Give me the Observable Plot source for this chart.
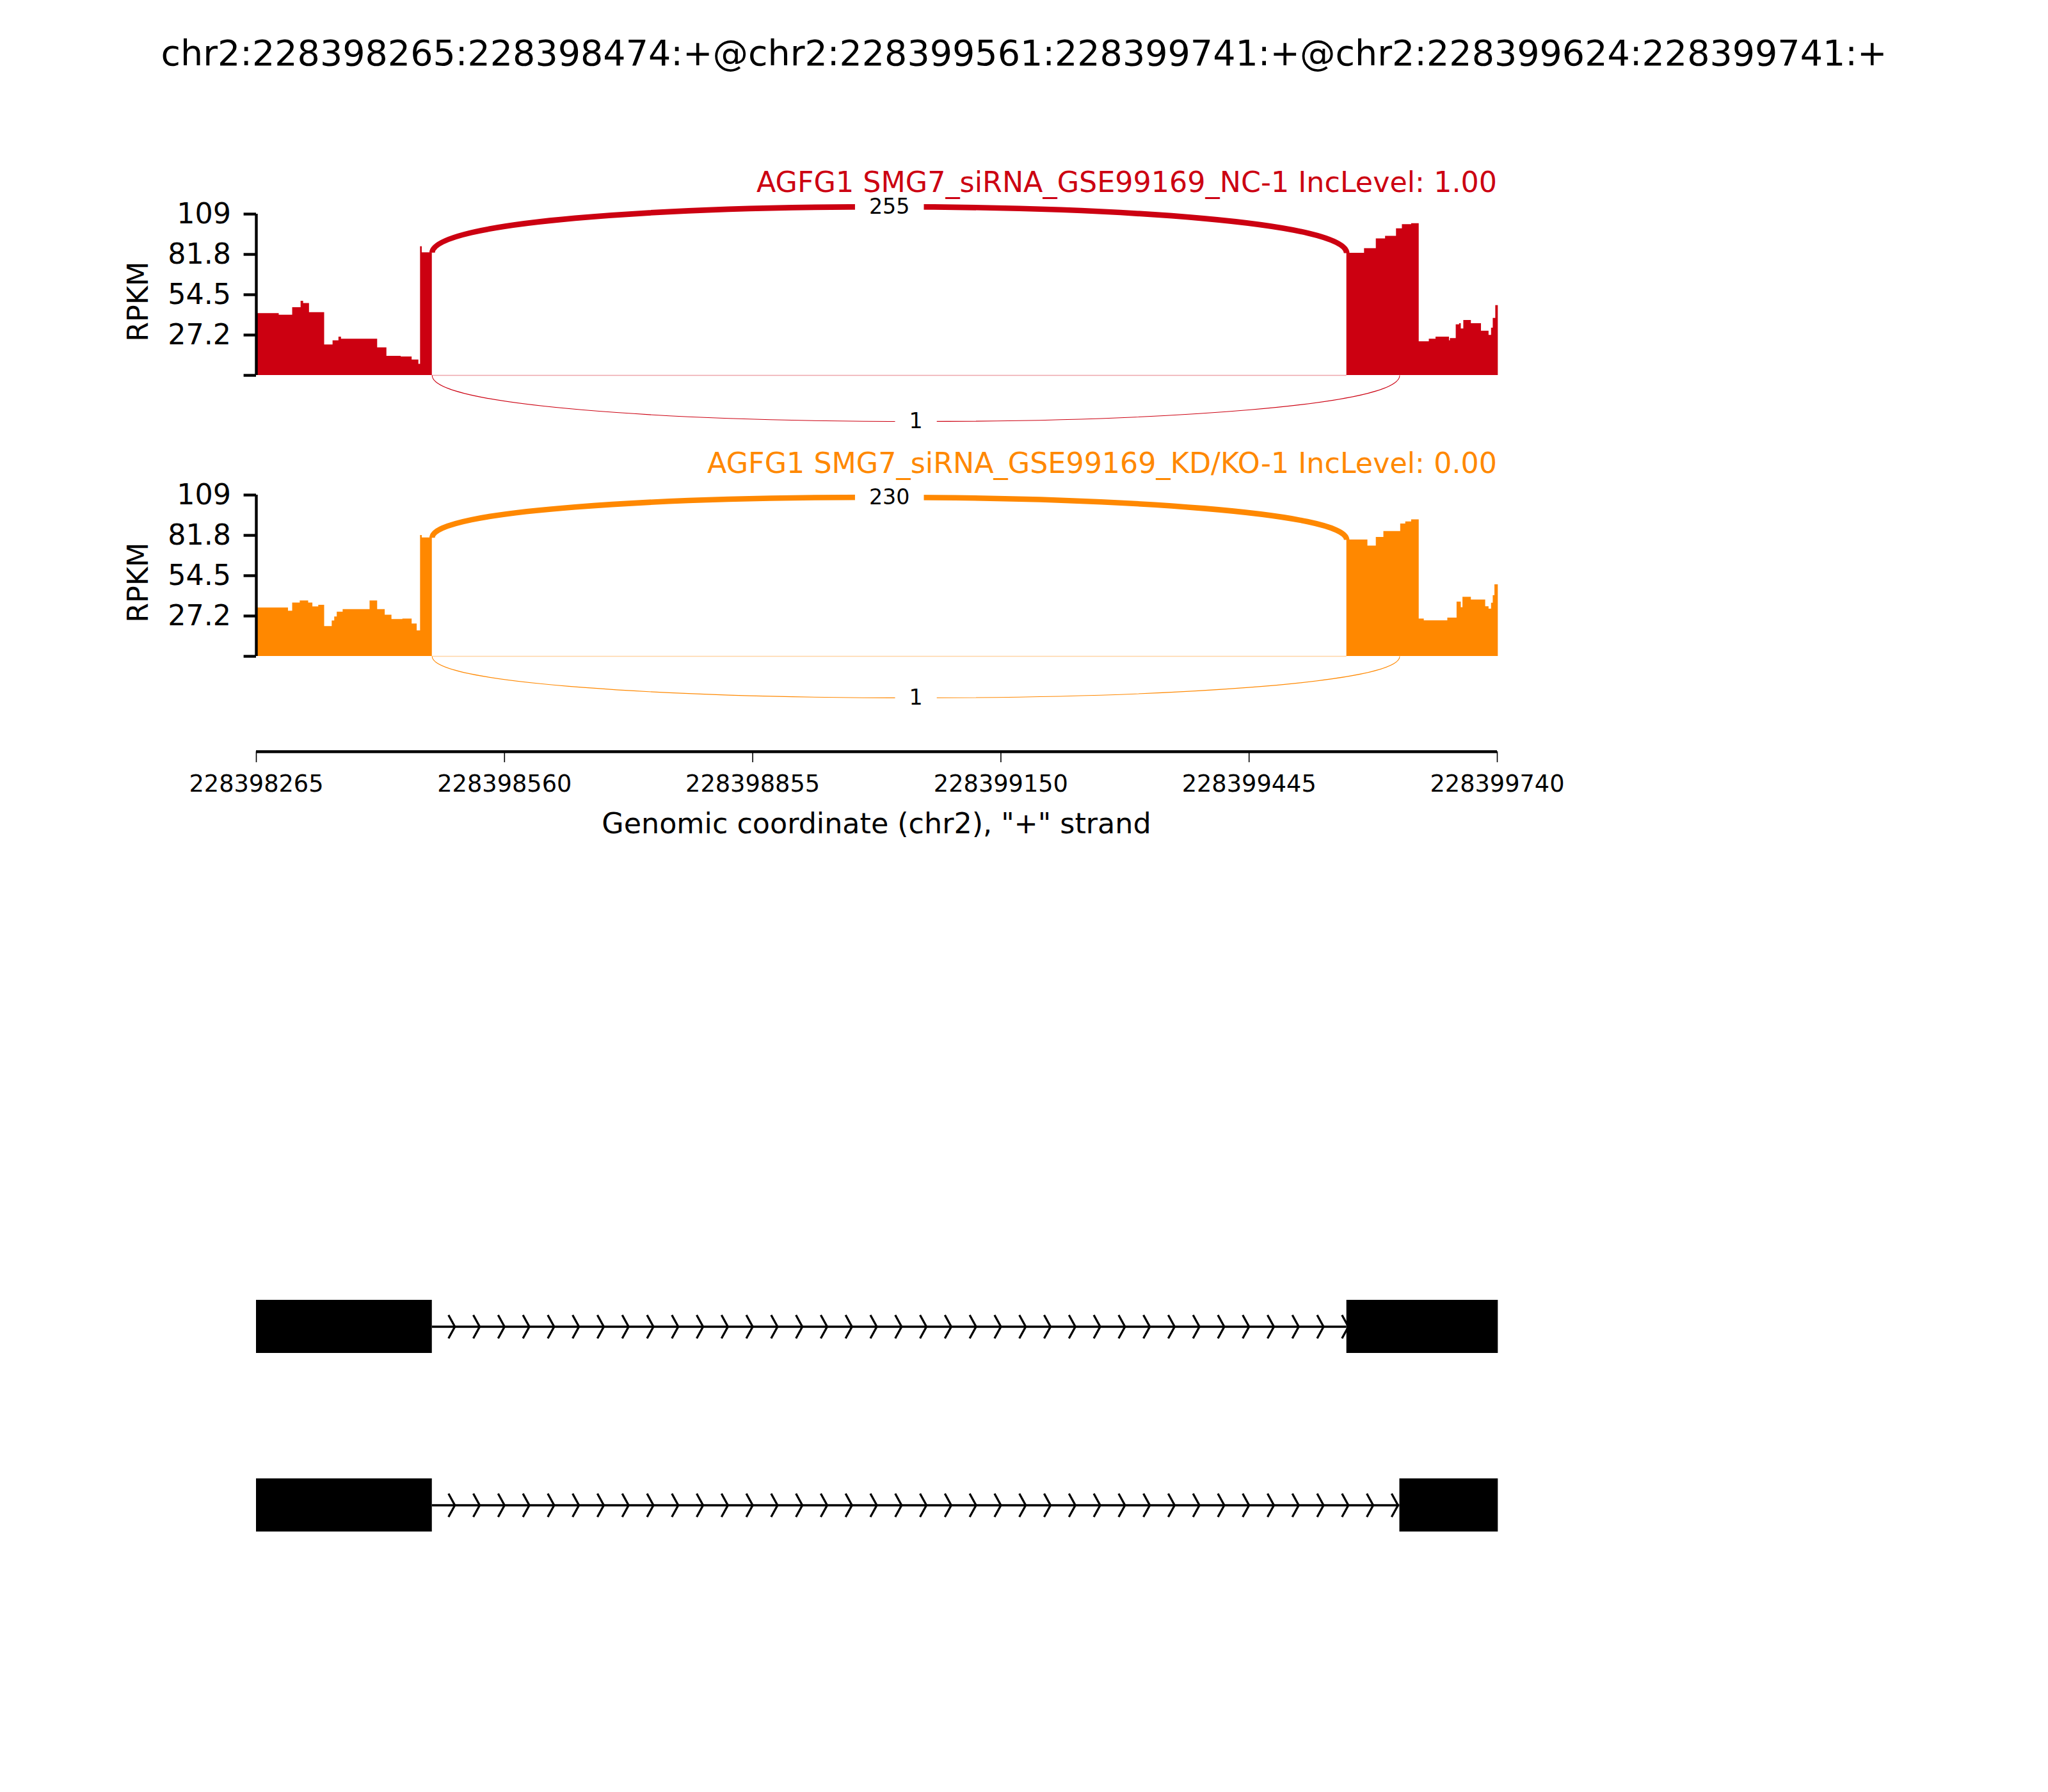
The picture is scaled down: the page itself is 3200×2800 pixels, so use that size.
<!DOCTYPE html>
<html>
<head>
<meta charset="utf-8">
<script src="https://cdn.jsdelivr.net/npm/d3@7"></script>
<script src="https://cdn.jsdelivr.net/npm/@observablehq/plot@0.6"></script>
<style>
  body { margin: 0; background: #fff; }
  #fig { position: relative; width: 3200px; height: 2800px; background: #fff; overflow: hidden;
         font-family: "DejaVu Sans", sans-serif; }
  .txt { position: absolute; white-space: nowrap; }
  .blk { position: absolute; left: 0; }
</style>
</head>
<body>
<div id="fig"></div>
<script>
// ---------------- data ----------------
const regionStart = 228398265;
const regionEnd = 228399740;
const mainTitle = "chr2:228398265:228398474:+@chr2:228399561:228399741:+@chr2:228399624:228399741:+";
const sampleTitles = ["AGFG1 SMG7_siRNA_GSE99169_NC-1 IncLevel: 1.00",
                      "AGFG1 SMG7_siRNA_GSE99169_KD/KO-1 IncLevel: 0.00"];
const sampleColors = ["#CC0011", "#FF8800"];
const xTicks = [228398265, 228398560, 228398855, 228399150, 228399445, 228399740];
const xTickLabels = ["228398265", "228398560", "228398855", "228399150", "228399445", "228399740"];
const xLabel = 'Genomic coordinate (chr2), "+" strand';
const yLabel = "RPKM";
const yMax = 109;
const yTicks = [0, 27.25, 54.5, 81.75, 109];
const yTickLabels = ["", "27.2", "54.5", "81.8", "109"];

// exons of the event
const exonUp = [228398265, 228398474];
const exonLong = [228399561, 228399741];
const exonShort = [228399624, 228399741];

// coverage (RPKM) as steps: position = bp offset from regionStart
const ncUpPos   = [0, 27, 43, 53, 56, 63, 81, 91, 98, 101, 144, 155, 172, 185, 193, 195, 197];
const ncUpVal   = [41.8, 40.8, 45.8, 50.2, 48.7, 42.5, 20.6, 23.5, 26.0, 24.5, 18.7, 13.0, 12.5, 10.5, 7.6, 87.0, 82.9];
const ncDownPos = [1296, 1317, 1331, 1342, 1355, 1362, 1373, 1382, 1394, 1402, 1418, 1419, 1426, 1430, 1432, 1435, 1444, 1456, 1465, 1468, 1470, 1473];
const ncDownVal = [82.6, 85.8, 92.3, 94.1, 99.2, 102.0, 102.6, 22.8, 24.5, 26.0, 23.5, 25.0, 34.3, 35.0, 31.5, 37.2, 35.0, 30.0, 27.1, 32.0, 38.6, 47.3];
const kdUpPos   = [0, 38, 43, 52, 62, 67, 74, 81, 90, 93, 96, 103, 135, 144, 153, 161, 174, 185, 191, 195, 197];
const kdUpVal   = [32.8, 30.6, 36.1, 37.5, 36.1, 33.5, 34.6, 20.2, 24.0, 26.7, 29.9, 31.7, 37.5, 31.7, 27.9, 25.0, 25.3, 22.0, 17.3, 81.8, 80.1];
const kdDownPos = [1296, 1321, 1331, 1340, 1360, 1366, 1373, 1382, 1388, 1416, 1427, 1432, 1434, 1444, 1461, 1465, 1468, 1470, 1472];
const kdDownVal = [78.7, 74.6, 80.4, 84.5, 89.5, 90.9, 92.4, 25.3, 24.1, 26.0, 36.8, 33.0, 40.0, 38.2, 33.6, 32.0, 36.0, 41.1, 48.4];

// junctions: inclusion (up -> long exon), skipping (up -> short exon)
const junctionStarts = [228398474, 228398474];
const junctionEnds   = [228399561, 228399624];
const junctionSides  = ["above", "below"];
const countsNC = [255, 1];
const countsKD = [230, 1];

// isoforms for gene structure track
const isoformNames = ["isoform1", "isoform2"];
const isoformExons = [[exonUp, exonLong], [exonUp, exonShort]];
const strandArrowCount = 50;  // chevrons on a regular grid over the region

// ---------------- styling ----------------
const FONT = "DejaVu Sans";
const arcHeightFrac = 0.405;
const arcMaxWidth = 8.7;
const W = 3200, ML = 400, MR = 861;

// ---------------- helpers ----------------
const fig = document.getElementById("fig");
function addText(str, css) {
  const d = document.createElement("div");
  d.className = "txt";
  d.textContent = str;
  Object.assign(d.style, css);
  fig.appendChild(d);
  return d;
}
function place(svg, top) {
  const wrap = document.createElement("div");
  wrap.className = "blk";
  wrap.style.top = top + "px";
  wrap.appendChild(svg);
  fig.appendChild(wrap);
}
function steps(pos, val, end, id) {
  const rows = pos.map((p, i) => ({x: regionStart + p, y: val[i], exon: id}));
  rows.push({x: end, y: val[val.length - 1], exon: id});
  return rows;
}
function covBefore(series, x) { // coverage just left of x
  let v = 0; for (const d of series) if (d.x < x) v = d.y; return v;
}
function covAt(series, x) { // coverage at x
  let v = 0; for (const d of series) if (d.x <= x) v = d.y; return v;
}
function bezierCurve(context) {
  let pts = [];
  return {
    areaStart() {}, areaEnd() {},
    lineStart() { pts = []; },
    point(x, y) { pts.push([+x, +y]); },
    lineEnd() {
      if (pts.length === 4) {
        context.moveTo(pts[0][0], pts[0][1]);
        context.bezierCurveTo(pts[1][0], pts[1][1], pts[2][0], pts[2][1], pts[3][0], pts[3][1]);
      } else if (pts.length) {
        context.moveTo(pts[0][0], pts[0][1]);
        for (const p of pts.slice(1)) context.lineTo(p[0], p[1]);
      }
    }
  };
}
function boxLabels(svg, pad) {
  svg.querySelectorAll('g[aria-label="text"] text').forEach(t => {
    const bb = t.getBBox();
    const r = document.createElementNS("http://www.w3.org/2000/svg", "rect");
    r.setAttribute("x", bb.x - pad);
    r.setAttribute("y", bb.y - pad);
    r.setAttribute("width", bb.width + 2 * pad);
    r.setAttribute("height", bb.height + 2 * pad);
    r.setAttribute("fill", "white");
    r.setAttribute("stroke", "none");
    const tr = t.getAttribute("transform");
    if (tr) r.setAttribute("transform", tr);
    t.parentNode.insertBefore(r, t);
  });
}
const maxCount = d3.max([...countsNC, ...countsKD]);

// ---------------- main title ----------------
addText(mainTitle, {left: "0px", width: W + "px", textAlign: "center", top: "55px",
  fontSize: "55.5px", lineHeight: "55.5px", color: "#000"});

// ---------------- sashimi panels ----------------
const samples = [
  {series: [...steps(ncUpPos, ncUpVal, exonUp[1], "up"), ...steps(ncDownPos, ncDownVal, exonLong[1], "down")], counts: countsNC},
  {series: [...steps(kdUpPos, kdUpVal, exonUp[1], "up"), ...steps(kdDownPos, kdDownVal, exonLong[1], "down")], counts: countsKD}
];
const panelTops = [240, 679];
const PH = 470, PMT = 94, PMB = 124;

samples.forEach((s, i) => {
  const color = sampleColors[i];
  const H = arcHeightFrac * d3.max(s.series, d => d.y);
  const arcMarks = [];
  const labels = [];
  junctionStarts.forEach((js, k) => {
    const je = junctionEnds[k];
    const above = junctionSides[k] === "above";
    const v1 = above ? covBefore(s.series, js) : 0;
    const v2 = above ? covAt(s.series, je) : 0;
    const h = above ? H : -H;
    const pts = [{x: js, y: v1}, {x: js, y: v1 + h}, {x: je, y: v2 + h}, {x: je, y: v2}];
    const lw = Math.log(s.counts[k] + 1) / Math.log(maxCount + 1) * arcMaxWidth;
    arcMarks.push(Plot.line(pts, {x: "x", y: "y", curve: bezierCurve, stroke: color, strokeWidth: lw,
      strokeLinecap: "butt"}));
    labels.push({x: (js + je) / 2, y: (v1 + v2) / 2 + 0.75 * h, text: String(s.counts[k])});
  });

  const svg = Plot.plot({
    width: W, height: PH,
    marginLeft: ML, marginRight: MR, marginTop: PMT, marginBottom: PMB,
    style: {background: "transparent", fontFamily: FONT, overflow: "visible"},
    x: {domain: [regionStart, regionEnd], axis: null},
    y: {domain: [0, yMax]},
    marks: [
      Plot.ruleY([0], {x1: exonUp[1], x2: exonLong[0], stroke: color, strokeOpacity: 0.35, strokeWidth: 1.5}),
      Plot.areaY(s.series, {x: "x", y: "y", z: "exon", curve: "step-after", fill: color}),
      ...arcMarks,
      Plot.text(labels, {x: "x", y: "y", text: "text", fontSize: 33.3, fill: "black",
        textAnchor: "middle", lineAnchor: "middle"}),
      Plot.ruleX([regionStart], {y1: 0, y2: yMax, stroke: "black", strokeWidth: 4.4}),
      Plot.axisY({ticks: yTicks, tickFormat: d => yTickLabels[yTicks.indexOf(d)], tickSize: 19.4,
        tickPadding: 20, strokeWidth: 4.4, fontSize: 44.4, label: null, anchor: "left"})
    ]
  });
  place(svg, panelTops[i]);
  boxLabels(svg, 22);

  // panel title (right aligned with the axes' right edge)
  addText(sampleTitles[i], {right: MR + "px", top: (panelTops[i] + PMT - 71.4) + "px",
    fontSize: "44.4px", lineHeight: "44.4px", color: color});
  // y label
  addText(yLabel, {left: (216 - 100) + "px", width: "200px", textAlign: "center",
    top: (panelTops[i] + PMT + 137 - 22.2) + "px", fontSize: "44.4px", lineHeight: "44.4px",
    color: "#000", transform: "rotate(-90deg)", transformOrigin: "50% 50%"});
});

// ---------------- genomic x axis ----------------
const axisTop = 1150;
const axisSvg = Plot.plot({
  width: W, height: 200,
  marginLeft: ML, marginRight: MR, marginTop: 0, marginBottom: 176,
  style: {background: "transparent", fontFamily: FONT, overflow: "visible"},
  x: {domain: [regionStart, regionEnd]},
  y: {domain: [0, 1], axis: null},
  marks: [
    Plot.ruleY([0], {x1: regionStart, x2: regionEnd, stroke: "black", strokeWidth: 4.4}),
    Plot.axisX({ticks: xTicks, tickFormat: d => xTickLabels[xTicks.indexOf(d)], tickSize: 17,
      tickPadding: 19, strokeWidth: 1.6, fontSize: 36.7, label: null, anchor: "bottom"})
  ]
});
place(axisSvg, axisTop);
addText(xLabel, {left: "0px", width: (2 * ML + (W - ML - MR)) + "px", textAlign: "center",
  top: "1264.6px", fontSize: "44.4px", lineHeight: "44.4px", color: "#000"});

// ---------------- gene structure track ----------------
const exonRows = isoformExons.flatMap((ex, i) => ex.map(e => ({iso: isoformNames[i], start: e[0], end: e[1]})));
const intronRows = isoformExons.map((ex, i) => ({iso: isoformNames[i], start: ex[0][1], end: ex[1][0]}));
const gridStep = (regionEnd - regionStart) / strandArrowCount;
const chevrons = intronRows.flatMap(r =>
  d3.range(strandArrowCount + 1)
    .map(k => regionStart + k * gridStep)
    .filter(t => t > r.start && t < r.end + gridStep * 0.5)
    .map(t => ({iso: r.iso, x: t})));
const chevronSymbol = {
  draw(context) {
    context.moveTo(-10, -18.3);
    context.lineTo(0, 0);
    context.lineTo(-10, 18.3);
  }
};
const geneTop = 1900;
const geneSvg = Plot.plot({
  width: W, height: 600,
  marginLeft: ML, marginRight: MR, marginTop: 0, marginBottom: 0,
  style: {background: "transparent", fontFamily: FONT, overflow: "visible"},
  x: {domain: [regionStart, regionEnd], axis: null},
  y: {type: "band", domain: isoformNames, range: [130.75, 493.75], paddingInner: 0.7013, paddingOuter: 0, axis: null},
  marks: [
    Plot.ruleY(intronRows, {y: "iso", x1: "start", x2: "end", stroke: "black", strokeWidth: 3.3}),
    Plot.dot(chevrons, {x: "x", y: "iso", symbol: chevronSymbol, fill: "none", stroke: "black",
      strokeWidth: 3.3, r: 5}),
    Plot.barX(exonRows, {x1: "start", x2: "end", y: "iso", fill: "black"})
  ]
});
place(geneSvg, geneTop);
</script>
</body>
</html>
